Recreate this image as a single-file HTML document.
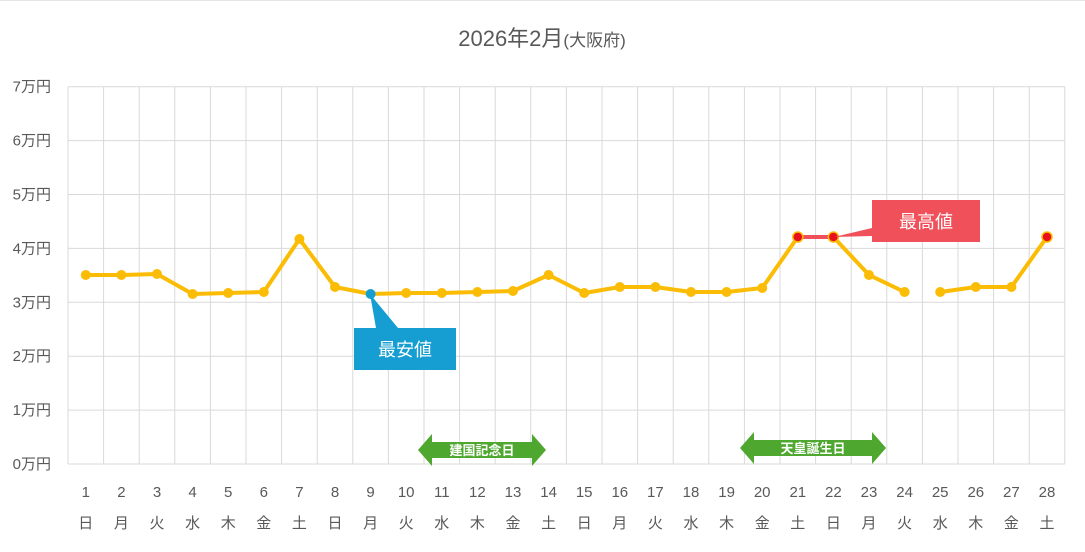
<!DOCTYPE html>
<html><head><meta charset="utf-8"><style>
body{margin:0;background:#fff;}
svg text{font-family:"Liberation Sans","Noto Sans CJK JP",sans-serif;}
</style></head><body>
<svg width="1085" height="547" xmlns="http://www.w3.org/2000/svg">
<rect x="0" y="0" width="1085" height="547" fill="#fff"/>
<line x1="0" y1="0.5" x2="1085" y2="0.5" stroke="#e5e5e5"/>
<text x="542" y="46" text-anchor="middle" font-size="22" fill="#595959">2026年2月<tspan font-size="17">(大阪府)</tspan></text>
<g id="grid" stroke="#d9d9d9" stroke-width="1"></g>
<g id="yl" font-size="15" fill="#595959" text-anchor="end"></g>
<g id="xl" font-size="15" fill="#595959" text-anchor="middle"></g>
<polygon points="418,450 432,434 432,442 532,442 532,434 546,450 532,466 532,458 432,458 432,466" fill="#4ea72e"/>
<text x="482" y="455" text-anchor="middle" font-size="13" font-weight="bold" fill="#fff">建国記念日</text>
<polygon points="740,448 754,432 754,440 872,440 872,432 886,448 872,464 872,456 754,456 754,464" fill="#4ea72e"/>
<text x="813" y="453" text-anchor="middle" font-size="13" font-weight="bold" fill="#fff">天皇誕生日</text>
<polyline id="l1" fill="none" stroke="#fbbc05" stroke-width="4" stroke-linejoin="round"/>
<polyline id="l2" fill="none" stroke="#fbbc05" stroke-width="4" stroke-linejoin="round"/>
<line x1="798" y1="237" x2="834" y2="237" stroke="#f0505a" stroke-width="4"/>
<g id="pts"></g>
<polygon points="370,294 376,328 398,328" fill="#169ed2"/>
<rect x="354" y="328" width="102" height="42" fill="#169ed2"/>
<text x="405" y="356" text-anchor="middle" font-size="18" fill="#fff">最安値</text>
<polygon points="834,237 872,228 872,236" fill="#f0505a"/>
<rect x="872" y="200" width="108" height="42" fill="#f0505a"/>
<text x="926" y="228" text-anchor="middle" font-size="18" fill="#fff">最高値</text>
</svg>
<script>
const ns="http://www.w3.org/2000/svg";
function el(p,t,a,txt){const e=document.createElementNS(ns,t);for(const k in a)e.setAttribute(k,a[k]);if(txt)e.textContent=txt;document.getElementById(p).appendChild(e);}
const x0=68,w=35.6;
for(let k=0;k<=28;k++){const x=x0+k*w;el('grid','line',{x1:x,y1:87,x2:x,y2:464});}
for(let v=0;v<=7;v++){const y=464-v*53.9;el('grid','line',{x1:68,y1:y,x2:1065,y2:y});el('yl','text',{x:51,y:y+5},v+'万円');}
const dw=['日','月','火','水','木','金','土'];
for(let i=1;i<=28;i++){const x=x0+(i-0.5)*w;el('xl','text',{x:x,y:497},String(i));el('xl','text',{x:x,y:528},dw[(i-1)%7]);}
const ys=[275,275,274,294,293,292,239,287,294,293,293,292,291,275,293,287,287,292,292,288,237,237,275,292,292,287,287,237];
const X=i=>x0+(i+0.5)*w;
document.getElementById('l1').setAttribute('points',ys.slice(0,24).map((y,i)=>X(i)+','+y).join(' '));
document.getElementById('l2').setAttribute('points',ys.slice(24).map((y,i)=>X(i+24)+','+y).join(' '));
ys.forEach((y,i)=>{let f='#fbbc05';if(i==8)f='#169ed2';if(i==20||i==21||i==27)f='#e8101a';el('pts','circle',{cx:X(i),cy:y,r:5,fill:f,stroke:(f=='#e8101a'?'#fbbc05':'none'),'stroke-width':1.5});});
</script>
</body></html>
